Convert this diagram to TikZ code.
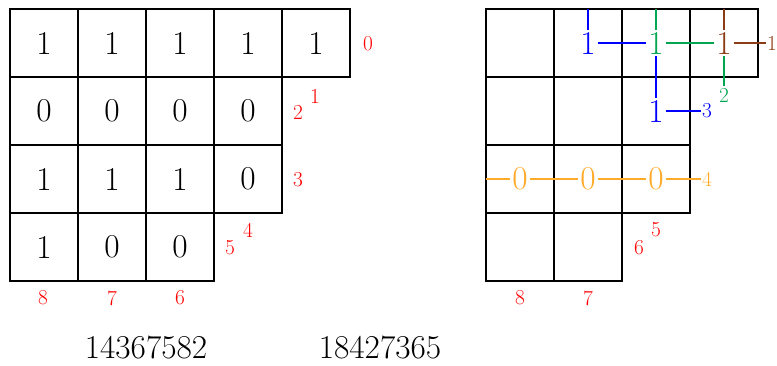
\documentclass[tikz,border=0pt]{standalone}
\usepackage{xcolor}
\definecolor{cgreen}{RGB}{0,166,80}
\definecolor{cbrown}{RGB}{140,60,20}
\definecolor{corange}{RGB}{255,170,40}
\definecolor{cred}{RGB}{255,0,0}
\begin{document}
\begin{tikzpicture}[x=0.75pt,y=-0.75pt,
  grid/.style={line width=1.4pt,black},
  big/.style={inner sep=1.5pt,font=\fontsize{25}{29}\selectfont},
  lab/.style={inner sep=1pt,text=cred,font=\fontsize{16}{19}\selectfont},
  slab/.style={inner sep=1pt,font=\fontsize{16}{19}\selectfont},
  link/.style={line width=0.9pt}]
\useasboundingbox (0,0) rectangle (777,365);
% ---- left grid ----
\draw[grid] (10,9) rectangle (350,77);
\foreach \x in {78,146,214,282} \draw[grid] (\x,9) -- (\x,77);
\draw[grid] (10,77) rectangle (282,213);
\draw[grid] (10,145) -- (282,145);
\foreach \x in {78,146,214} \draw[grid] (\x,77) -- (\x,213);
\draw[grid] (10,213) rectangle (214,281);
\foreach \x in {78,146} \draw[grid] (\x,213) -- (\x,281);
% entries
\foreach \v [count=\i from 0] in {1,1,1,1,1} \node[big] (a1\i) at (44+68*\i,43) {\v};
\foreach \v [count=\i from 0] in {0,0,0,0} \node[big] (a2\i) at (44+68*\i,111) {\v};
\foreach \v [count=\i from 0] in {1,1,1,0} \node[big] (a3\i) at (44+68*\i,179) {\v};
\foreach \v [count=\i from 0] in {1,0,0} \node[big] (a4\i) at (44+68*\i,247) {\v};
% red labels
\node[lab] (l0) at (368,44) {0};
\node[lab] (l1) at (315,96) {1};
\node[lab] (l2) at (298,112) {2};
\node[lab] (l3) at (298,180) {3};
\node[lab] (l4) at (248,230) {4};
\node[lab] (l5) at (230,248) {5};
\node[lab] (l6) at (180,298) {6};
\node[lab] (l7) at (112,298) {7};
\node[lab] (l8) at (43,298) {8};
% ---- right grid ----
\draw[grid] (486,9) rectangle (758,77);
\foreach \x in {554,622,690} \draw[grid] (\x,9) -- (\x,77);
\draw[grid] (486,77) rectangle (690,213);
\draw[grid] (486,145) -- (690,145);
\foreach \x in {554,622} \draw[grid] (\x,77) -- (\x,213);
\draw[grid] (486,213) rectangle (622,281);
\draw[grid] (554,213) -- (554,281);
% coloured entries
\node[big,text=blue] (b1) at (588,43) {1};
\node[big,text=cgreen] (g1) at (656,43) {1};
\node[big,text=cbrown] (r1) at (724,43) {1};
\node[big,text=blue] (b2) at (656,111) {1};
\node[big,text=corange] (o1) at (520,179) {0};
\node[big,text=corange] (o2) at (588,179) {0};
\node[big,text=corange] (o3) at (656,179) {0};
\node[slab,text=cbrown] (t1) at (772,43) {1};
\node[slab,text=cgreen] (t2) at (724,95) {2};
\node[slab,text=blue] (t3) at (707,111) {3};
\node[slab,text=corange] (t4) at (707,179) {4};
\coordinate (bt) at (588,9);
\coordinate (gt) at (656,9);
\coordinate (rt) at (724,9);
\coordinate (ol) at (486,179);
% paths
\draw[link,blue] (bt) -- (b1.north);
\draw[link,blue] (b1.east) -- (g1.west);
\draw[link,blue] (g1.south) -- (b2.north);
\draw[link,blue] (b2.east) -- (t3.west);
\draw[link,cgreen] (gt) -- (g1.north);
\draw[link,cgreen] (g1.east) -- (r1.west);
\draw[link,cgreen] (r1.south) -- (t2.north);
\draw[link,cbrown] (rt) -- (r1.north);
\draw[link,cbrown] (r1.east) -- (t1.west);
\draw[link,corange] (ol) -- (o1.west);
\draw[link,corange] (o1.east) -- (o2.west);
\draw[link,corange] (o2.east) -- (o3.west);
\draw[link,corange] (o3.east) -- (t4.west);
% red labels
\node[lab] (m5) at (656,230) {5};
\node[lab] (m6) at (639,248) {6};
\node[lab] (m7) at (588,298) {7};
\node[lab] (m8) at (520,298) {8};
% words
\node[big] (w1) at (146,347) {14367582};
\node[big] (w2) at (380,347) {18427365};
\end{tikzpicture}
\end{document}
